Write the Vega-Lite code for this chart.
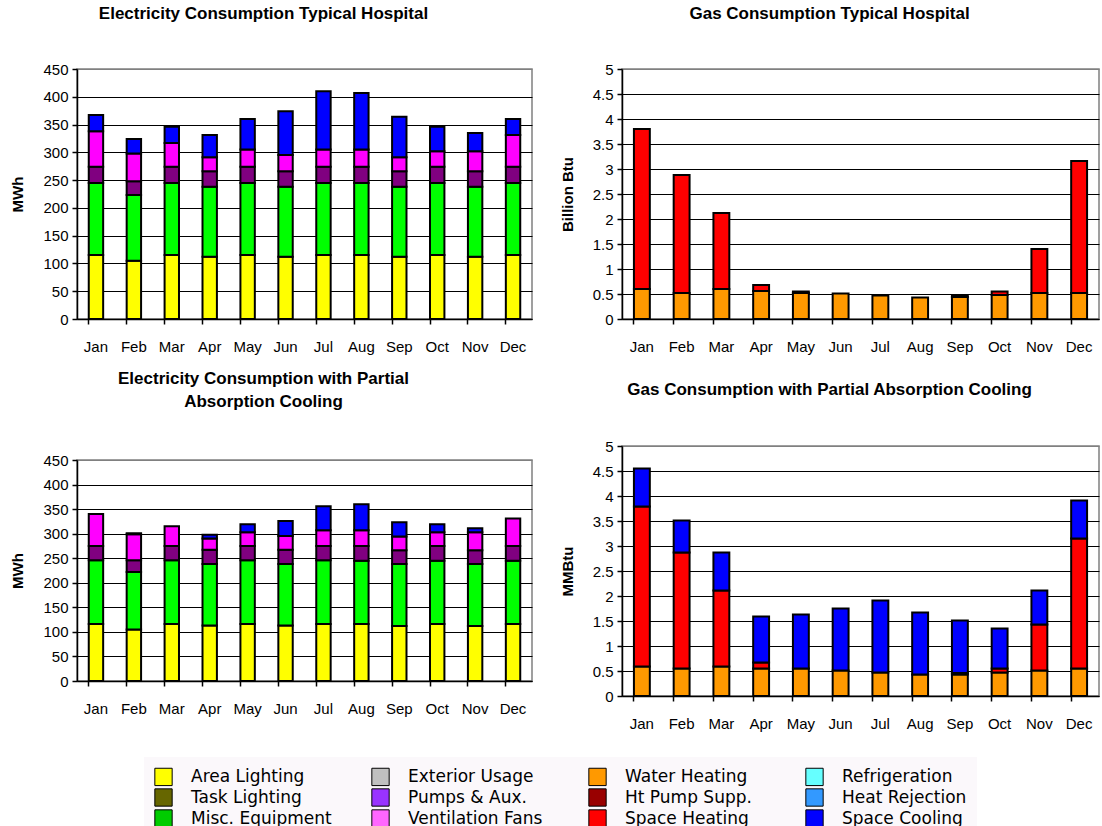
{
  "$schema": "https://vega.github.io/schema/vega-lite/v6.json",
  "padding": {"left": 10, "top": 4, "right": 0, "bottom": 0},
  "background": "white",
  "datasets": {
    "stackOrder": [
      {"c":"Area Lighting","k":1},{"c":"Misc. Equipment","k":2},{"c":"Pumps & Aux.","k":3},{"c":"Ventilation Fans","k":4},
      {"c":"Water Heating","k":5},{"c":"Space Heating","k":6},{"c":"Space Cooling","k":7}
    ],
    "elec1": [
      {"m":"Jan","c":"Area Lighting","v":115},{"m":"Jan","c":"Misc. Equipment","v":130},{"m":"Jan","c":"Pumps & Aux.","v":29},{"m":"Jan","c":"Ventilation Fans","v":64},{"m":"Jan","c":"Space Cooling","v":29},
      {"m":"Feb","c":"Area Lighting","v":105},{"m":"Feb","c":"Misc. Equipment","v":118},{"m":"Feb","c":"Pumps & Aux.","v":25},{"m":"Feb","c":"Ventilation Fans","v":50},{"m":"Feb","c":"Space Cooling","v":26},
      {"m":"Mar","c":"Area Lighting","v":115},{"m":"Mar","c":"Misc. Equipment","v":130},{"m":"Mar","c":"Pumps & Aux.","v":29},{"m":"Mar","c":"Ventilation Fans","v":43},{"m":"Mar","c":"Space Cooling","v":29},
      {"m":"Apr","c":"Area Lighting","v":112},{"m":"Apr","c":"Misc. Equipment","v":126},{"m":"Apr","c":"Pumps & Aux.","v":28},{"m":"Apr","c":"Ventilation Fans","v":25},{"m":"Apr","c":"Space Cooling","v":40},
      {"m":"May","c":"Area Lighting","v":115},{"m":"May","c":"Misc. Equipment","v":130},{"m":"May","c":"Pumps & Aux.","v":29},{"m":"May","c":"Ventilation Fans","v":31},{"m":"May","c":"Space Cooling","v":55},
      {"m":"Jun","c":"Area Lighting","v":112},{"m":"Jun","c":"Misc. Equipment","v":126},{"m":"Jun","c":"Pumps & Aux.","v":28},{"m":"Jun","c":"Ventilation Fans","v":29},{"m":"Jun","c":"Space Cooling","v":79},
      {"m":"Jul","c":"Area Lighting","v":115},{"m":"Jul","c":"Misc. Equipment","v":130},{"m":"Jul","c":"Pumps & Aux.","v":29},{"m":"Jul","c":"Ventilation Fans","v":31},{"m":"Jul","c":"Space Cooling","v":105},
      {"m":"Aug","c":"Area Lighting","v":115},{"m":"Aug","c":"Misc. Equipment","v":130},{"m":"Aug","c":"Pumps & Aux.","v":29},{"m":"Aug","c":"Ventilation Fans","v":31},{"m":"Aug","c":"Space Cooling","v":102},
      {"m":"Sep","c":"Area Lighting","v":112},{"m":"Sep","c":"Misc. Equipment","v":126},{"m":"Sep","c":"Pumps & Aux.","v":28},{"m":"Sep","c":"Ventilation Fans","v":25},{"m":"Sep","c":"Space Cooling","v":73},
      {"m":"Oct","c":"Area Lighting","v":115},{"m":"Oct","c":"Misc. Equipment","v":130},{"m":"Oct","c":"Pumps & Aux.","v":29},{"m":"Oct","c":"Ventilation Fans","v":28},{"m":"Oct","c":"Space Cooling","v":44},
      {"m":"Nov","c":"Area Lighting","v":112},{"m":"Nov","c":"Misc. Equipment","v":126},{"m":"Nov","c":"Pumps & Aux.","v":28},{"m":"Nov","c":"Ventilation Fans","v":36},{"m":"Nov","c":"Space Cooling","v":33},
      {"m":"Dec","c":"Area Lighting","v":115},{"m":"Dec","c":"Misc. Equipment","v":130},{"m":"Dec","c":"Pumps & Aux.","v":29},{"m":"Dec","c":"Ventilation Fans","v":57},{"m":"Dec","c":"Space Cooling","v":29}
    ],
    "gas1": [
      {"m":"Jan","c":"Water Heating","v":0.6},{"m":"Jan","c":"Space Heating","v":3.2},
      {"m":"Feb","c":"Water Heating","v":0.52},{"m":"Feb","c":"Space Heating","v":2.36},
      {"m":"Mar","c":"Water Heating","v":0.6},{"m":"Mar","c":"Space Heating","v":1.52},
      {"m":"Apr","c":"Water Heating","v":0.56},{"m":"Apr","c":"Space Heating","v":0.12},
      {"m":"May","c":"Water Heating","v":0.52},{"m":"May","c":"Space Heating","v":0.03},
      {"m":"Jun","c":"Water Heating","v":0.51},
      {"m":"Jul","c":"Water Heating","v":0.47},
      {"m":"Aug","c":"Water Heating","v":0.43},
      {"m":"Sep","c":"Water Heating","v":0.44},{"m":"Sep","c":"Space Heating","v":0.04},
      {"m":"Oct","c":"Water Heating","v":0.48},{"m":"Oct","c":"Space Heating","v":0.07},
      {"m":"Nov","c":"Water Heating","v":0.52},{"m":"Nov","c":"Space Heating","v":0.88},
      {"m":"Dec","c":"Water Heating","v":0.52},{"m":"Dec","c":"Space Heating","v":2.64}
    ],
    "elec2": [
      {"m":"Jan","c":"Area Lighting","v":116},{"m":"Jan","c":"Misc. Equipment","v":130},{"m":"Jan","c":"Pumps & Aux.","v":29},{"m":"Jan","c":"Ventilation Fans","v":65},
      {"m":"Feb","c":"Area Lighting","v":105},{"m":"Feb","c":"Misc. Equipment","v":117},{"m":"Feb","c":"Pumps & Aux.","v":24},{"m":"Feb","c":"Ventilation Fans","v":53},{"m":"Feb","c":"Space Cooling","v":2},
      {"m":"Mar","c":"Area Lighting","v":116},{"m":"Mar","c":"Misc. Equipment","v":130},{"m":"Mar","c":"Pumps & Aux.","v":29},{"m":"Mar","c":"Ventilation Fans","v":40},
      {"m":"Apr","c":"Area Lighting","v":113},{"m":"Apr","c":"Misc. Equipment","v":125},{"m":"Apr","c":"Pumps & Aux.","v":29},{"m":"Apr","c":"Ventilation Fans","v":23},{"m":"Apr","c":"Space Cooling","v":8},
      {"m":"May","c":"Area Lighting","v":116},{"m":"May","c":"Misc. Equipment","v":130},{"m":"May","c":"Pumps & Aux.","v":29},{"m":"May","c":"Ventilation Fans","v":28},{"m":"May","c":"Space Cooling","v":16},
      {"m":"Jun","c":"Area Lighting","v":113},{"m":"Jun","c":"Misc. Equipment","v":125},{"m":"Jun","c":"Pumps & Aux.","v":29},{"m":"Jun","c":"Ventilation Fans","v":28},{"m":"Jun","c":"Space Cooling","v":31},
      {"m":"Jul","c":"Area Lighting","v":116},{"m":"Jul","c":"Misc. Equipment","v":130},{"m":"Jul","c":"Pumps & Aux.","v":29},{"m":"Jul","c":"Ventilation Fans","v":32},{"m":"Jul","c":"Space Cooling","v":49},
      {"m":"Aug","c":"Area Lighting","v":116},{"m":"Aug","c":"Misc. Equipment","v":129},{"m":"Aug","c":"Pumps & Aux.","v":30},{"m":"Aug","c":"Ventilation Fans","v":32},{"m":"Aug","c":"Space Cooling","v":53},
      {"m":"Sep","c":"Area Lighting","v":112},{"m":"Sep","c":"Misc. Equipment","v":126},{"m":"Sep","c":"Pumps & Aux.","v":28},{"m":"Sep","c":"Ventilation Fans","v":28},{"m":"Sep","c":"Space Cooling","v":29},
      {"m":"Oct","c":"Area Lighting","v":116},{"m":"Oct","c":"Misc. Equipment","v":129},{"m":"Oct","c":"Pumps & Aux.","v":30},{"m":"Oct","c":"Ventilation Fans","v":28},{"m":"Oct","c":"Space Cooling","v":16},
      {"m":"Nov","c":"Area Lighting","v":112},{"m":"Nov","c":"Misc. Equipment","v":126},{"m":"Nov","c":"Pumps & Aux.","v":28},{"m":"Nov","c":"Ventilation Fans","v":37},{"m":"Nov","c":"Space Cooling","v":8},
      {"m":"Dec","c":"Area Lighting","v":116},{"m":"Dec","c":"Misc. Equipment","v":129},{"m":"Dec","c":"Pumps & Aux.","v":30},{"m":"Dec","c":"Ventilation Fans","v":56}
    ],
    "gas2": [
      {"m":"Jan","c":"Water Heating","v":0.59},{"m":"Jan","c":"Space Heating","v":3.2},{"m":"Jan","c":"Space Cooling","v":0.76},
      {"m":"Feb","c":"Water Heating","v":0.55},{"m":"Feb","c":"Space Heating","v":2.32},{"m":"Feb","c":"Space Cooling","v":0.64},
      {"m":"Mar","c":"Water Heating","v":0.59},{"m":"Mar","c":"Space Heating","v":1.52},{"m":"Mar","c":"Space Cooling","v":0.76},
      {"m":"Apr","c":"Water Heating","v":0.55},{"m":"Apr","c":"Space Heating","v":0.12},{"m":"Apr","c":"Space Cooling","v":0.92},
      {"m":"May","c":"Water Heating","v":0.55},{"m":"May","c":"Space Cooling","v":1.08},
      {"m":"Jun","c":"Water Heating","v":0.51},{"m":"Jun","c":"Space Cooling","v":1.24},
      {"m":"Jul","c":"Water Heating","v":0.47},{"m":"Jul","c":"Space Cooling","v":1.44},
      {"m":"Aug","c":"Water Heating","v":0.43},{"m":"Aug","c":"Space Cooling","v":1.24},
      {"m":"Sep","c":"Water Heating","v":0.43},{"m":"Sep","c":"Space Heating","v":0.03},{"m":"Sep","c":"Space Cooling","v":1.05},
      {"m":"Oct","c":"Water Heating","v":0.47},{"m":"Oct","c":"Space Heating","v":0.08},{"m":"Oct","c":"Space Cooling","v":0.8},
      {"m":"Nov","c":"Water Heating","v":0.51},{"m":"Nov","c":"Space Heating","v":0.92},{"m":"Nov","c":"Space Cooling","v":0.68},
      {"m":"Dec","c":"Water Heating","v":0.55},{"m":"Dec","c":"Space Heating","v":2.6},{"m":"Dec","c":"Space Cooling","v":0.76}
    ],
    "legendItems": [
      {"c":"Area Lighting"},{"c":"Task Lighting"},{"c":"Misc. Equipment"},
      {"c":"Exterior Usage"},{"c":"Pumps & Aux."},{"c":"Ventilation Fans"},
      {"c":"Water Heating"},{"c":"Ht Pump Supp."},{"c":"Space Heating"},
      {"c":"Refrigeration"},{"c":"Heat Rejection"},{"c":"Space Cooling"}
    ]
  },
  "resolve": {"scale": {"color": "independent"}, "legend": {"color": "independent"}},
  "spacing": 15,
  "vconcat": [
    {
      "spacing": 26,
      "hconcat": [
        {
          "spacing": 14,
          "vconcat": [
            {
              "width": 455, "height": 250,
              "title": {"text": "Electricity Consumption Typical Hospital", "offset": 39, "dx": -8},
              "data": {"name": "elec1"},
              "transform": [{"lookup": "c", "from": {"data": {"name": "stackOrder"}, "key": "c", "fields": ["k"]}}],
              "mark": {"type": "bar", "stroke": "black", "strokeWidth": 2},
              "encoding": {
                "x": {"field": "m", "type": "nominal", "sort": ["Jan","Feb","Mar","Apr","May","Jun","Jul","Aug","Sep","Oct","Nov","Dec"], "scale": {"paddingInner": 0.62, "paddingOuter": 0.31}, "axis": {"title": null}},
                "y": {"field": "v", "type": "quantitative", "stack": "zero", "scale": {"domain": [0, 450], "nice": false}, "axis": {"title": "MWh", "values": [0,50,100,150,200,250,300,350,400,450], "gridColor": {"condition": {"test": "datum.value >= 450", "value": "#808080"}, "value": "black"}}},
                "color": {"field": "c", "type": "nominal", "scale": {"domain": ["Area Lighting","Misc. Equipment","Pumps & Aux.","Ventilation Fans","Water Heating","Space Heating","Space Cooling"], "range": ["#ffff00","#00ff00","#800080","#ff00ff","#ff9900","#ff0000","#0000ff"]}, "legend": null},
                "order": {"field": "k", "type": "quantitative", "sort": "ascending"}
              }
            },
            {
              "width": 455, "height": 221,
              "title": {"text": ["Electricity Consumption with Partial", "Absorption Cooling"], "lineHeight": 23, "offset": 42, "dx": -8},
              "data": {"name": "elec2"},
              "transform": [{"lookup": "c", "from": {"data": {"name": "stackOrder"}, "key": "c", "fields": ["k"]}}],
              "mark": {"type": "bar", "stroke": "black", "strokeWidth": 2},
              "encoding": {
                "x": {"field": "m", "type": "nominal", "sort": ["Jan","Feb","Mar","Apr","May","Jun","Jul","Aug","Sep","Oct","Nov","Dec"], "scale": {"paddingInner": 0.62, "paddingOuter": 0.31}, "axis": {"title": null}},
                "y": {"field": "v", "type": "quantitative", "stack": "zero", "scale": {"domain": [0, 450], "nice": false}, "axis": {"title": "MWh", "values": [0,50,100,150,200,250,300,350,400,450], "gridColor": {"condition": {"test": "datum.value >= 450", "value": "#808080"}, "value": "black"}}},
                "color": {"field": "c", "type": "nominal", "scale": {"domain": ["Area Lighting","Misc. Equipment","Pumps & Aux.","Ventilation Fans","Water Heating","Space Heating","Space Cooling"], "range": ["#ffff00","#00ff00","#800080","#ff00ff","#ff9900","#ff0000","#0000ff"]}, "legend": null},
                "order": {"field": "k", "type": "quantitative", "sort": "ascending"}
              }
            }
          ]
        },
        {
          "spacing": 25,
          "vconcat": [
            {
              "width": 477, "height": 250,
              "title": {"text": "Gas Consumption Typical Hospital", "offset": 39},
              "data": {"name": "gas1"},
              "transform": [{"lookup": "c", "from": {"data": {"name": "stackOrder"}, "key": "c", "fields": ["k"]}}],
              "mark": {"type": "bar", "stroke": "black", "strokeWidth": 2},
              "encoding": {
                "x": {"field": "m", "type": "nominal", "sort": ["Jan","Feb","Mar","Apr","May","Jun","Jul","Aug","Sep","Oct","Nov","Dec"], "scale": {"paddingInner": 0.6, "paddingOuter": 0.3}, "axis": {"title": null}},
                "y": {"field": "v", "type": "quantitative", "stack": "zero", "scale": {"domain": [0, 5], "nice": false}, "axis": {"title": "Billion Btu", "values": [0,0.5,1,1.5,2,2.5,3,3.5,4,4.5,5], "format": "~g", "gridColor": {"condition": {"test": "datum.value >= 5", "value": "#808080"}, "value": "black"}}},
                "color": {"field": "c", "type": "nominal", "scale": {"domain": ["Area Lighting","Misc. Equipment","Pumps & Aux.","Ventilation Fans","Water Heating","Space Heating","Space Cooling"], "range": ["#ffff00","#00ff00","#800080","#ff00ff","#ff9900","#ff0000","#0000ff"]}, "legend": null},
                "order": {"field": "k", "type": "quantitative", "sort": "ascending"}
              }
            },
            {
              "width": 477, "height": 250,
              "title": {"text": "Gas Consumption with Partial Absorption Cooling", "offset": 40},
              "data": {"name": "gas2"},
              "transform": [{"lookup": "c", "from": {"data": {"name": "stackOrder"}, "key": "c", "fields": ["k"]}}],
              "mark": {"type": "bar", "stroke": "black", "strokeWidth": 2},
              "encoding": {
                "x": {"field": "m", "type": "nominal", "sort": ["Jan","Feb","Mar","Apr","May","Jun","Jul","Aug","Sep","Oct","Nov","Dec"], "scale": {"paddingInner": 0.6, "paddingOuter": 0.3}, "axis": {"title": null}},
                "y": {"field": "v", "type": "quantitative", "stack": "zero", "scale": {"domain": [0, 5], "nice": false}, "axis": {"title": "MMBtu", "values": [0,0.5,1,1.5,2,2.5,3,3.5,4,4.5,5], "format": "~g", "gridColor": {"condition": {"test": "datum.value >= 5", "value": "#808080"}, "value": "black"}}},
                "color": {"field": "c", "type": "nominal", "scale": {"domain": ["Area Lighting","Misc. Equipment","Pumps & Aux.","Ventilation Fans","Water Heating","Space Heating","Space Cooling"], "range": ["#ffff00","#00ff00","#800080","#ff00ff","#ff9900","#ff0000","#0000ff"]}, "legend": null},
                "order": {"field": "k", "type": "quantitative", "sort": "ascending"}
              }
            }
          ]
        }
      ]
    },
    {
      "width": 1, "height": 1,
      "view": {"stroke": null},
      "data": {"name": "legendItems"},
      "mark": {"type": "square", "opacity": 0},
      "encoding": {
        "color": {
          "field": "c", "type": "nominal",
          "sort": ["Area Lighting","Task Lighting","Misc. Equipment","Exterior Usage","Pumps & Aux.","Ventilation Fans","Water Heating","Ht Pump Supp.","Space Heating","Refrigeration","Heat Rejection","Space Cooling"],
          "scale": {
            "domain": ["Area Lighting","Task Lighting","Misc. Equipment","Exterior Usage","Pumps & Aux.","Ventilation Fans","Water Heating","Ht Pump Supp.","Space Heating","Refrigeration","Heat Rejection","Space Cooling"],
            "range": ["#ffff00","#666600","#00cc00","#c0c0c0","#9933ff","#ff66ff","#ff9900","#990000","#ff0000","#66ffff","#3399ff","#0000ff"]
          },
          "legend": {
            "title": null, "orient": "none", "legendX": 67, "legendY": 7,
            "columns": 4, "gridAlign": "all", "columnPadding": 37, "rowPadding": -3,
            "symbolType": "square", "symbolSize": 300, "symbolOpacity": 1,
            "symbolStrokeColor": "black", "symbolStrokeWidth": 1,
            "labelFont": "DejaVu Sans", "labelFontSize": 17, "labelColor": "black",
            "labelOffset": 18, "labelLimit": 300,
            "fillColor": "#fbf8fb", "padding": 10
          }
        }
      }
    }
  ],
  "config": {
    "font": "Liberation Sans",
    "view": {"stroke": "#808080", "strokeWidth": 1.5},
    "title": {"fontSize": 17, "fontWeight": "bold", "color": "black", "anchor": "middle", "frame": "bounds", "font": "Liberation Sans"},
    "axis": {"domainColor": "black", "domainWidth": 1.5, "tickColor": "black", "tickSize": 5, "tickWidth": 1.5, "labelFont": "Liberation Sans", "labelFontSize": 15, "labelColor": "black", "titleFont": "Liberation Sans", "titleFontSize": 15, "titleFontWeight": "bold", "titleColor": "black"},
    "axisX": {"grid": false, "bandPosition": 0, "labelPadding": 15, "labelAngle": 0},
    "axisY": {"grid": true, "gridWidth": 1, "labelPadding": 4, "titlePadding": 17}
  }
}
